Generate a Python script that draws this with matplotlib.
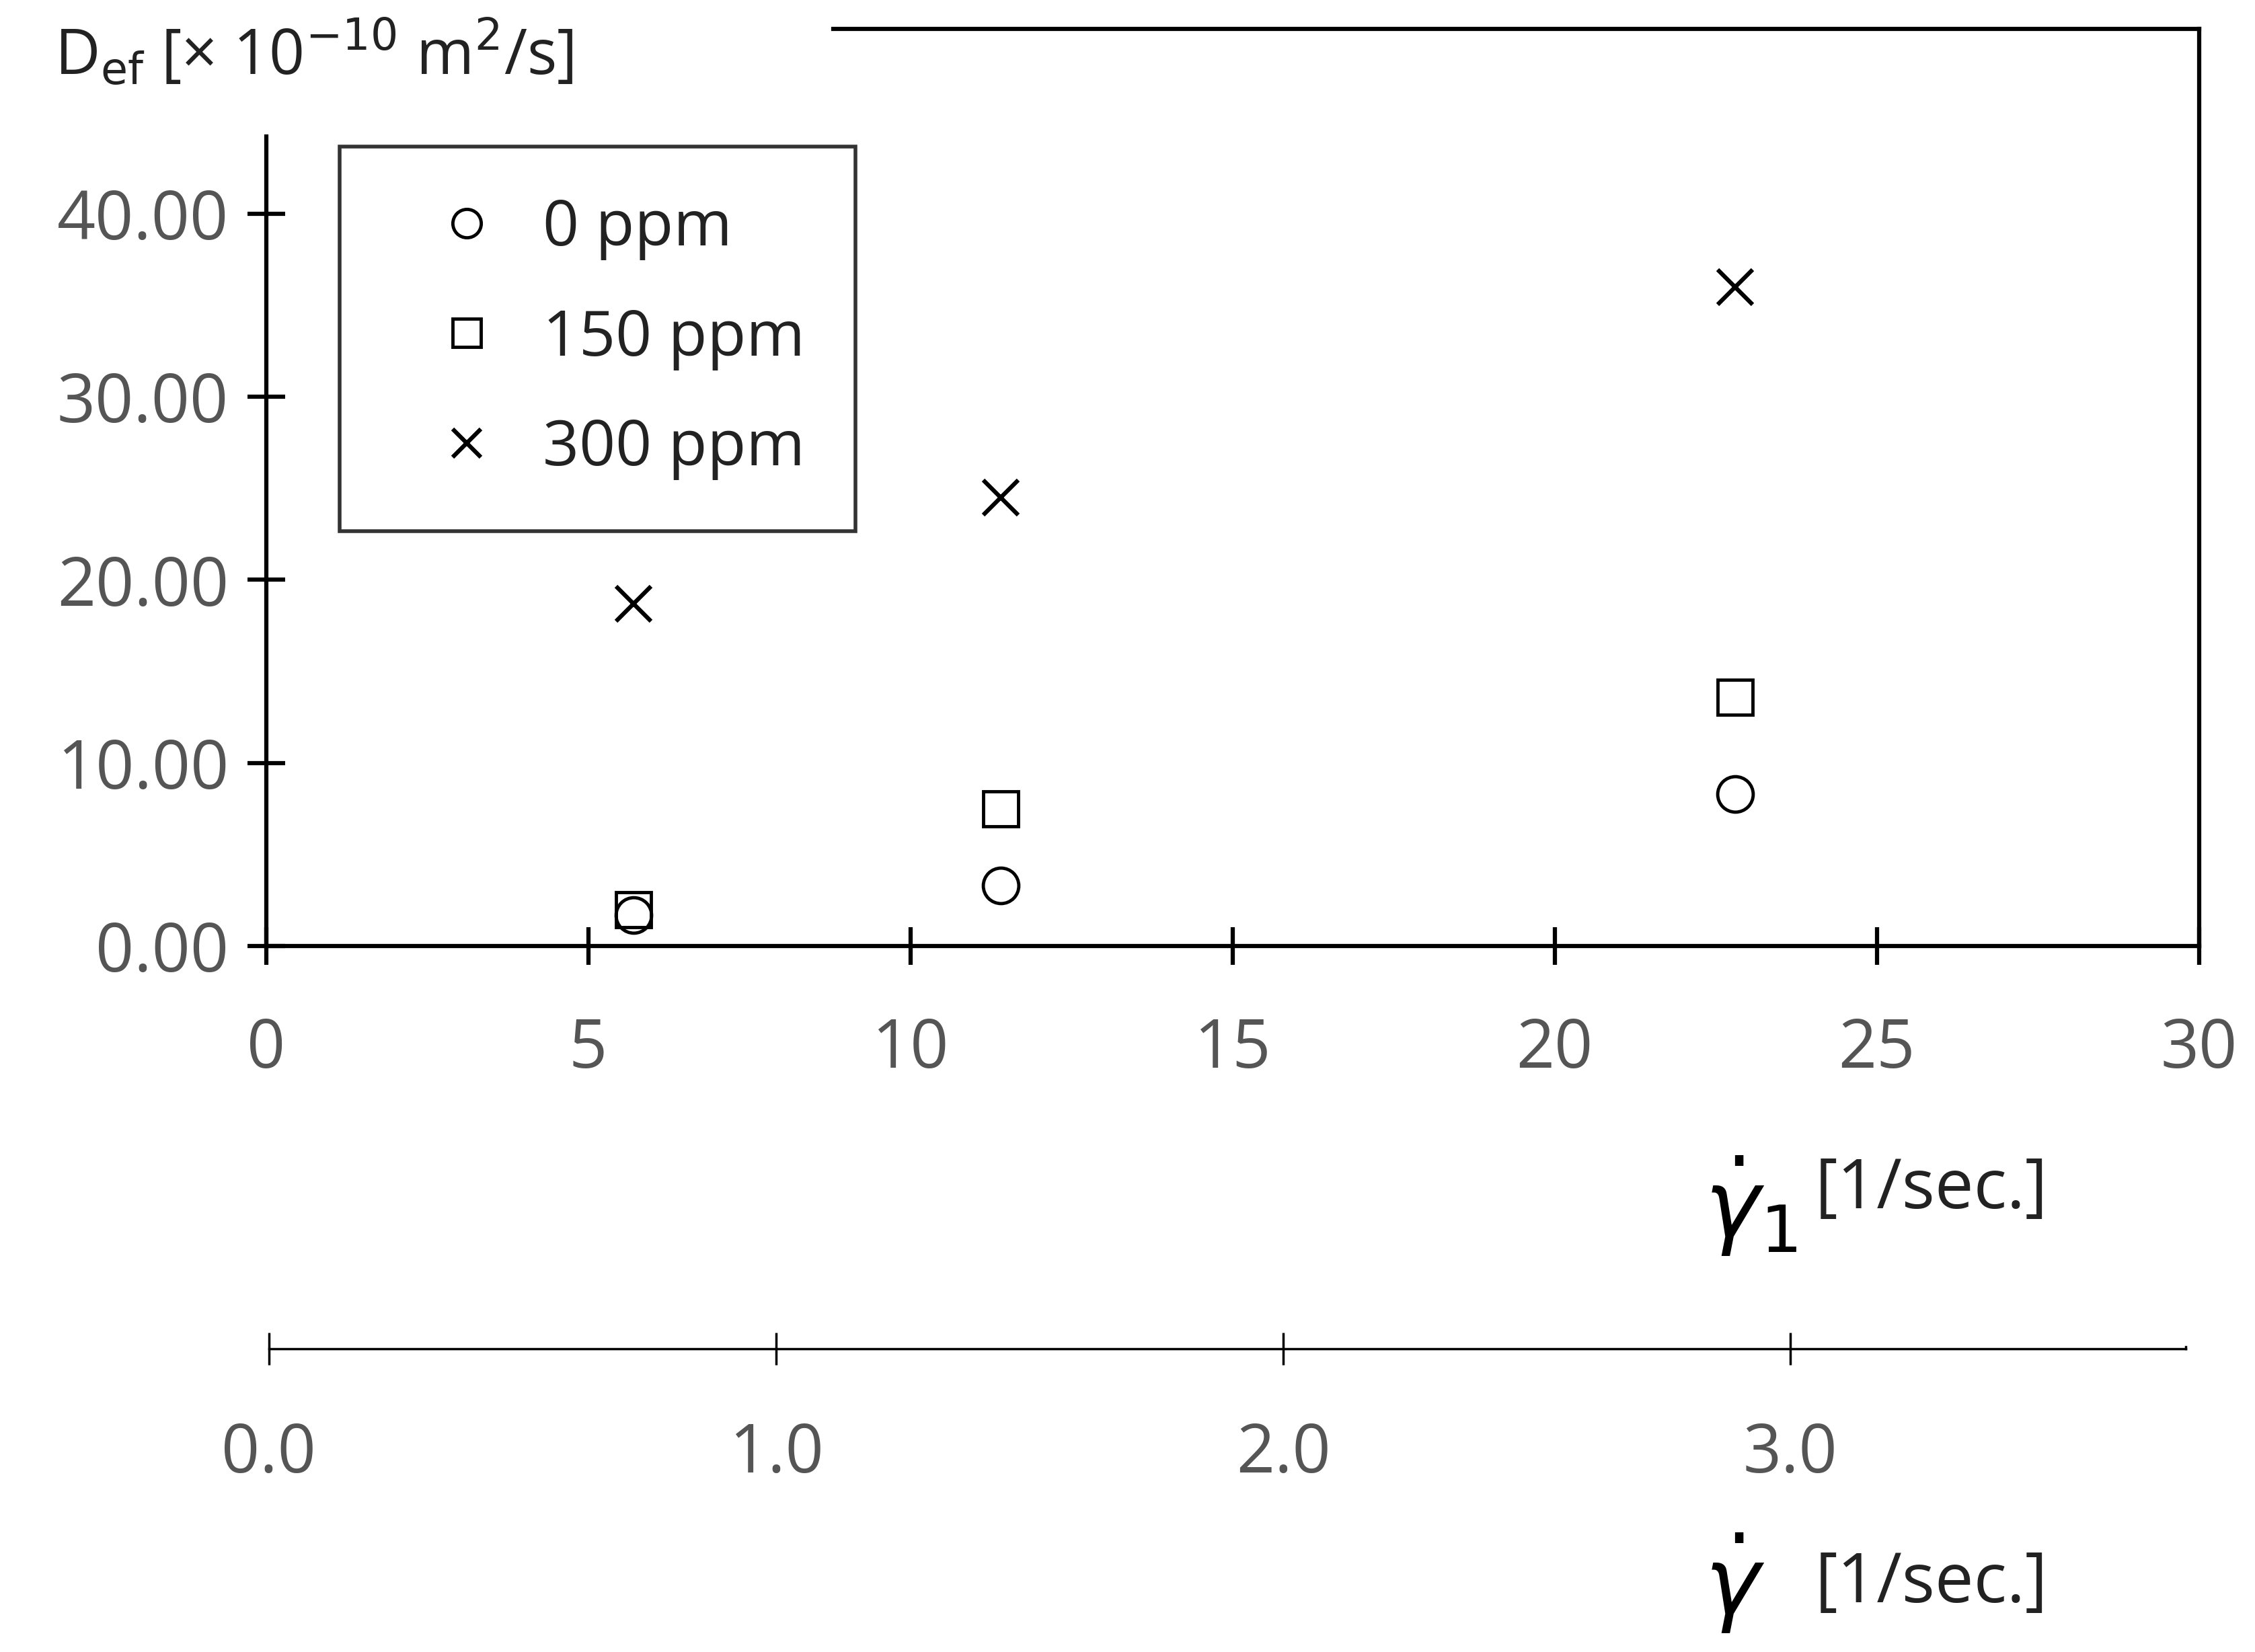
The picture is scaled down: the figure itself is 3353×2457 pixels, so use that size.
import matplotlib
matplotlib.use("Agg")
import matplotlib.pyplot as plt

x_vals = [5.7, 11.4, 22.8]
d_0ppm = [1.7, 3.3, 8.3]
d_150ppm = [2.0, 7.5, 13.6]
d_300ppm = [18.7, 24.5, 36.0]
labels = ["0 ppm", "150 ppm", "300 ppm"]

plt.rcParams['font.family'] = ['Open Sans', 'DejaVu Sans']
fig = plt.figure(figsize=(33.53, 24.57), dpi=100)
W, H = 1568, 1149
def fx(p): return p / W
def fy(p): return 1 - p / H

lw = 4.5
ax = fig.add_axes([fx(185), fy(658), fx(1529) - fx(185), fy(20) - fy(658)])
ax.set_xlim(0, 30)
ax.set_ylim(0, 50.1)
ms = 38
ax.plot(x_vals, d_0ppm, 'o', mfc='white', mec='black', ms=ms, mew=3.5, label=labels[0], clip_on=False)
ax.plot(x_vals, d_150ppm, 's', mfc='none', mec='black', ms=ms, mew=3.5, label=labels[1], clip_on=False)
ax.plot(x_vals, d_300ppm, 'x', color='black', ms=ms, mew=4.5, label=labels[2], clip_on=False)
for s in ax.spines.values():
    s.set_linewidth(lw)
ax.spines['left'].set_bounds(0, 44.2)
ax.spines['top'].set_visible(False)
ax.plot([8.8, 30], [50.1, 50.1], color='black', lw=lw, clip_on=False)
ax.set_xticks(range(0, 31, 5))
ax.set_yticks(range(0, 41, 10))
ax.set_yticklabels([f"{v:.2f}" for v in range(0, 41, 10)])
ax.tick_params(direction='inout', length=40, width=lw, labelsize=72, labelcolor='#555555', pad=20)
ax.tick_params(axis='x', pad=55)

leg = ax.legend(loc='upper left', bbox_to_anchor=(fx(236), fy(102)), bbox_transform=fig.transFigure,
                fontsize=68, frameon=True, fancybox=False, edgecolor='black', handletextpad=0.0,
                borderpad=0.8, labelspacing=0.75, handlelength=2.4, markerscale=0.8, borderaxespad=0)
leg.get_frame().set_linewidth(4)
for t in leg.get_texts():
    t.set_color('#222222')

ax2 = fig.add_axes([fx(187), fy(938), fx(1520) - fx(187), 0.001])
ax2.set_xlim(0, 3.78)
ax2.set_ylim(0, 1)
for k in ['left', 'top']:
    ax2.spines[k].set_visible(False)
ax2.spines['right'].set_bounds(0, 1)
ax2.spines['bottom'].set_linewidth(2.5)
ax2.spines['right'].set_linewidth(2.5)
ax2.set_yticks([])
ax2.set_xticks([0, 1, 2, 3])
ax2.set_xticklabels(["0.0", "1.0", "2.0", "3.0"])
ax2.tick_params(direction='inout', length=35, width=2.5, labelsize=72, labelcolor='#555555', pad=60)

fig.text(fx(38), fy(38), r"D$_{\mathrm{ef}}$ [× 10$^{-10}$ m$^2$/s]", fontsize=67, va='center', ha='left', color='#222222')
fig.text(fx(1185), fy(840), r"$\dot{\gamma}_1$", fontsize=100, va='center', ha='left')
fig.text(fx(1262), fy(828), "[1/sec.]", fontsize=74, va='center', ha='left', color='#222222')
fig.text(fx(1185), fy(1102), r"$\dot{\gamma}$", fontsize=100, va='center', ha='left')
fig.text(fx(1262), fy(1102), "[1/sec.]", fontsize=74, va='center', ha='left', color='#222222')

fig.savefig("out.png", dpi=100, facecolor='white')
